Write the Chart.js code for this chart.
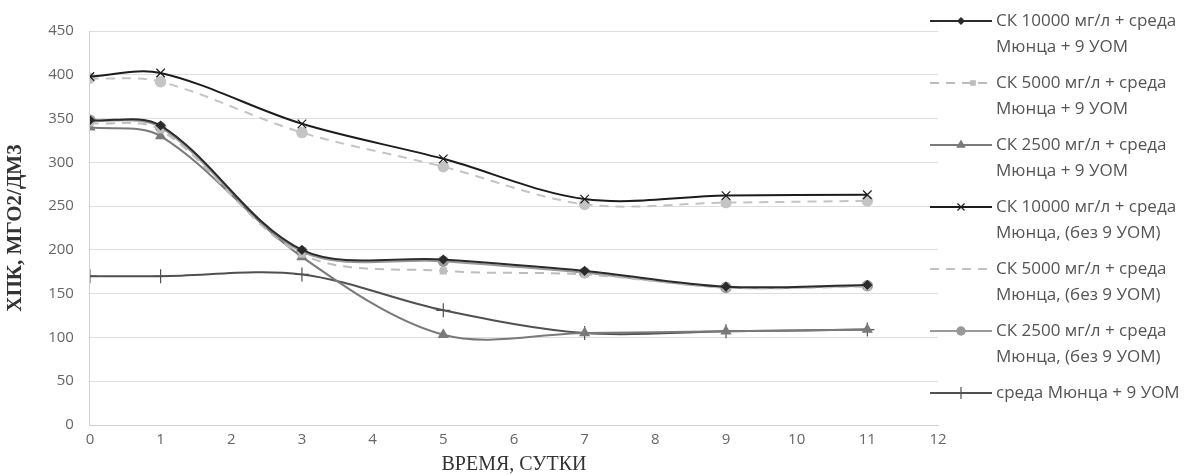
<!DOCTYPE html>
<html>
<head>
<meta charset="utf-8">
<script src="https://cdn.jsdelivr.net/npm/chart.js@4"></script>
<style>
  html, body { margin: 0; padding: 0; background: #fff; }
  #wrap { width: 1188px; height: 475px; position: relative; }
</style>
</head>
<body>
<div id="wrap"><canvas id="chart"></canvas></div>
<script>
// ===== Data =====
const days = [0, 1, 3, 5, 7, 9, 11];

const sk10000Uom = [348, 342, 200, 189, 176, 158, 160];
const sk5000Uom = [345, 337, 195, 176, 172, 157, 158];
const sk2500Uom = [340, 330, 192, 103, 105, 107, 109];
const sk10000NoUom = [398, 402, 344, 304, 258, 262, 263];
const sk5000NoUom = [396, 392, 334, 295, 252, 254, 256];
const sk2500NoUom = [348, 340, 198, 187, 174, 157, 159];
const mediumUom = [170, 170, 172, 131, 105, 107, 109];

const seriesLabels = [
  ['СК 10000 мг/л + среда', 'Мюнца + 9 УОМ'],
  ['СК 5000 мг/л + среда', 'Мюнца + 9 УОМ'],
  ['СК 2500 мг/л + среда', 'Мюнца + 9 УОМ'],
  ['СК 10000 мг/л + среда', 'Мюнца, (без 9 УОМ)'],
  ['СК 5000 мг/л + среда', 'Мюнца, (без 9 УОМ)'],
  ['СК 2500 мг/л + среда', 'Мюнца, (без 9 УОМ)'],
  ['среда Мюнца + 9 УОМ']
];

const yTicks = [0, 50, 100, 150, 200, 250, 300, 350, 400, 450];
const xTicks = [0, 1, 2, 3, 4, 5, 6, 7, 8, 9, 10, 11, 12];

// ===== Helpers =====
function toPoints(values) {
  return values.map((v, i) => ({ x: days[i], y: v }));
}

function makeSet(label, values, color, style, extra) {
  return Object.assign({
    label: label.join(' '),
    lines: label,
    data: toPoints(values),
    borderColor: color,
    backgroundColor: color,
    borderWidth: 2,
    pointStyle: style,
    pointRadius: 4,
    pointBorderWidth: 1.5,
    tension: 0.33
  }, extra || {});
}

const datasets = [
  makeSet(seriesLabels[0], sk10000Uom, '#2b2b2b', 'rectRot'),
  makeSet(seriesLabels[1], sk5000Uom, '#bdbdbd', 'rect', { borderDash: [9, 7] }),
  makeSet(seriesLabels[2], sk2500Uom, '#7a7a7a', 'triangle', { pointRadius: 5 }),
  makeSet(seriesLabels[3], sk10000NoUom, '#1c1c1c', 'crossRot', { pointRadius: 6, pointBorderWidth: 1.2 }),
  makeSet(seriesLabels[4], sk5000NoUom, '#c4c4c4', 'circle', { borderDash: [9, 7], pointRadius: 5, legendMarker: false }),
  makeSet(seriesLabels[5], sk2500NoUom, '#9a9a9a', 'circle', { pointRadius: 5 }),
  makeSet(seriesLabels[6], mediumUom, '#505050', 'cross', { pointRadius: 7, pointBorderWidth: 1.2 })
];

// ===== Legend (two-line labels on the right) =====
const sideLegend = {
  id: 'sideLegend',
  afterDraw(chart) {
    const ctx = chart.ctx;
    const x0 = 930, x1 = 992, markX = 961, textX = 996, top = 21, gap = 62, lineH = 26;
    ctx.save();
    chart.data.datasets.forEach((ds, i) => {
      const y = top + i * gap;
      ctx.strokeStyle = ds.borderColor;
      ctx.lineWidth = 2;
      ctx.setLineDash(ds.borderDash || []);
      ctx.beginPath();
      ctx.moveTo(x0, y);
      ctx.lineTo(x1, y);
      ctx.stroke();
      ctx.setLineDash([]);
      if (ds.legendMarker !== false) {
        ctx.fillStyle = ds.backgroundColor;
        ctx.lineWidth = ds.pointBorderWidth;
        Chart.helpers.drawPoint(ctx, {
          pointStyle: ds.pointStyle, radius: ds.pointRadius - 1, borderWidth: ds.pointBorderWidth
        }, ds.pointStyle === 'rect' ? 973 : markX, y);
      }
      ctx.fillStyle = '#555';
      ctx.font = '17px "Open Sans", sans-serif';
      ctx.textBaseline = 'middle';
      ds.lines.forEach((t, k) => ctx.fillText(t, textX, y + k * lineH));
    });
    ctx.restore();
  }
};

// ===== Chart =====
new Chart(document.getElementById('chart'), {
  type: 'line',
  data: { datasets },
  options: {
    responsive: true,
    maintainAspectRatio: false,
    animation: false,
    layout: { padding: { top: 31, right: 250, bottom: 0, left: 3 } },
    plugins: {
      legend: { display: false },
      tooltip: { enabled: false }
    },
    scales: {
      x: {
        type: 'linear',
        min: xTicks[0],
        max: xTicks[xTicks.length - 1],
        afterBuildTicks: axis => { axis.ticks = xTicks.map(v => ({ value: v })); },
        grid: { display: false, drawTicks: false, tickLength: 0 },
        border: { color: '#d0d0d0' },
        ticks: { color: '#666', font: { size: 15, family: '"Open Sans", sans-serif' }, padding: 6 },
        title: {
          display: true,
          text: 'ВРЕМЯ, СУТКИ',
          color: '#333',
          font: { size: 20, lineHeight: 1, family: '"Liberation Serif", serif' },
          padding: { top: 0, bottom: 0 }
        }
      },
      y: {
        min: yTicks[0],
        max: yTicks[yTicks.length - 1],
        afterBuildTicks: axis => { axis.ticks = yTicks.map(v => ({ value: v })); },
        grid: { color: '#dedede', drawTicks: false, tickLength: 0 },
        border: { color: '#d0d0d0' },
        ticks: { color: '#666', font: { size: 15, family: '"Open Sans", sans-serif' }, padding: 16 },
        title: {
          display: true,
          text: 'ХПК, МГО2/ДМ3',
          color: '#333',
          font: { size: 21, weight: 'bold', family: '"Liberation Serif", serif' },
          padding: { top: 0, bottom: 4 }
        }
      }
    }
  },
  plugins: [sideLegend]
});
</script>
</body>
</html>
